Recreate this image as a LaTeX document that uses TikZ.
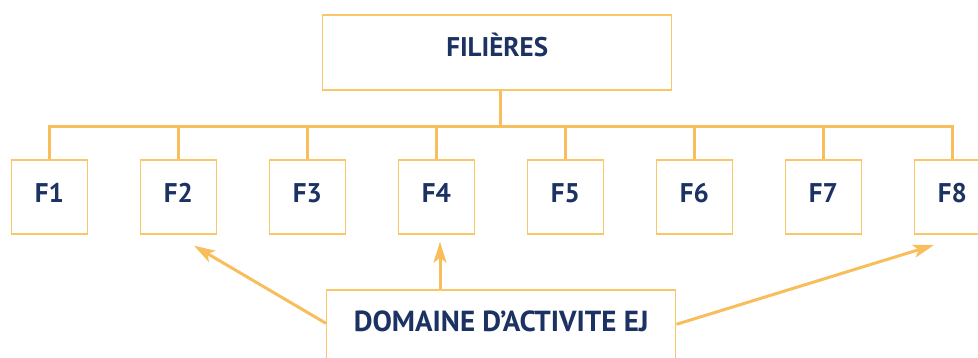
\documentclass[tikz,border=0pt]{standalone}
\usepackage{fontspec}
\setmainfont{PT Sans}
\usetikzlibrary{arrows.meta}
\definecolor{lineor}{HTML}{F8BE5C}
\definecolor{boxor}{HTML}{FAC66A}
\definecolor{navy}{HTML}{1B3262}
\begin{document}
\begin{tikzpicture}[x=1pt,y=-1pt,
  box/.style={draw=boxor, line width=1.5pt, fill=white, text=navy,
    font=\fontsize{27}{29}\selectfont\bfseries, inner sep=0pt},
  fbox/.style={box, minimum width=76pt, minimum height=74pt, text height=19pt, text depth=8.4pt},
  bus/.style={draw=lineor, line width=3pt, line join=miter},
  arr/.style={draw=lineor, line width=3pt, -{Stealth[length=21pt,width=13pt,inset=5pt]}}]
\path[use as bounding box] (0,0) rectangle (978,357);
\clip (0,0) rectangle (978,357);
\node[box, minimum width=349pt, minimum height=75pt, text height=18pt, text depth=9.2pt] (fil) at (497.2,52.3) {FILIÈRES};
\foreach \i in {1,...,8}
  \node[fbox] (f\i) at ({49.3+129*(\i-1)},197) {F\i};
\coordinate (bus) at (500.3,126);
\draw[bus] (fil.south -| bus) -- (bus);
\draw[bus] (f1.north) -- (f1.north |- bus) -- (f8.north |- bus) -- (f8.north);
\foreach \i in {2,...,7}
  \draw[bus] (f\i.north) -- (f\i.north |- bus);
\node[box, font=\fontsize{29}{31}\selectfont\bfseries, minimum width=349pt, minimum height=80pt, text height=18pt, text depth=14.6pt] (dom) at (501.2,330) {DOMAINE D’ACTIVITE EJ};
\coordinate (t2) at (194,245.7);
\coordinate (t4) at (440,241.7);
\coordinate (t8) at (934,245);
\draw[arr] ([yshift=6.7pt]dom.west) -- (t2);
\draw[arr] (dom.north -| t4) -- (t4);
\draw[arr] ([yshift=5.7pt]dom.east) -- (t8);
\end{tikzpicture}
\end{document}
